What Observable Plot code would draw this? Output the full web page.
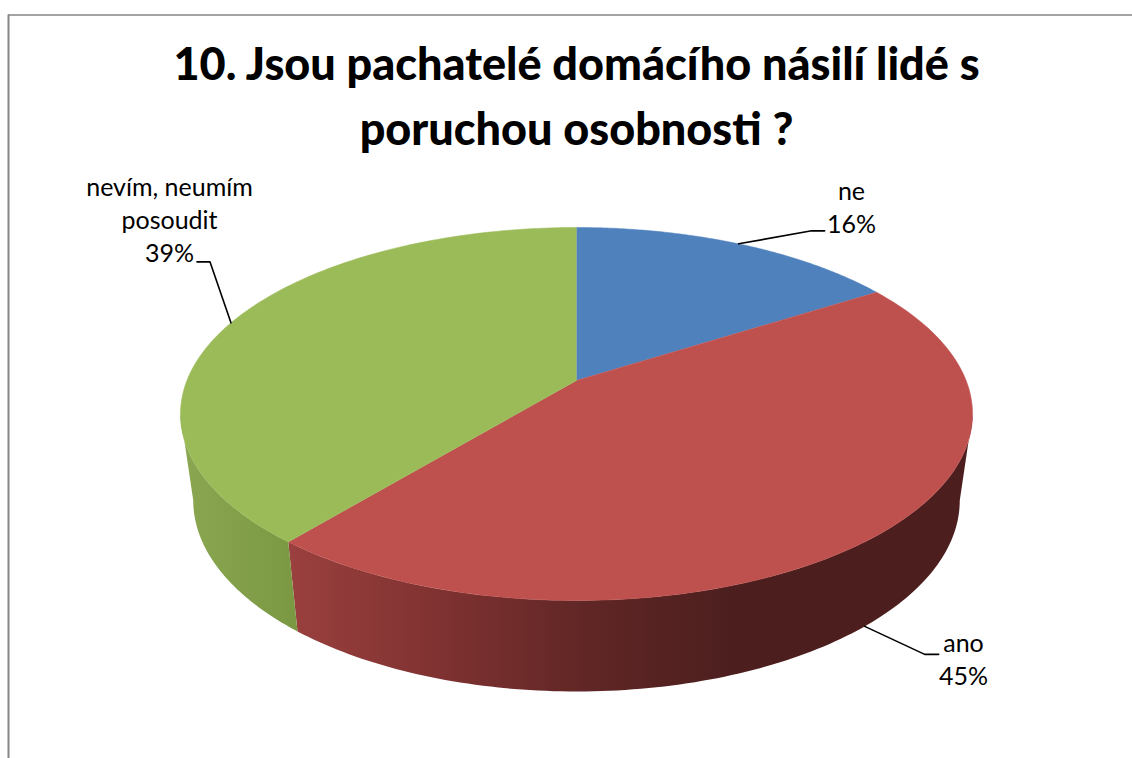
<!DOCTYPE html>
<html>
<head>
<meta charset="utf-8">
<script src="https://cdn.jsdelivr.net/npm/d3@7"></script>
<script src="https://cdn.jsdelivr.net/npm/@observablehq/plot@0.6"></script>
<style>html,body{margin:0;padding:0;background:#fff;overflow:hidden}svg{display:block}</style>
</head>
<body>
<div id="chart"></div>
<script>
const titleLines = ["10. Jsou pachatelé domácího násilí lidé s", "poruchou osobnosti ?"];
const categories = ["ne", "ano", "nevím, neumím\nposoudit"];
const shares = [16, 45, 39];
const topColors = ["#4f81bd", "#be504e", "#9bbb59"];
const leaderRim = ["top", "bottom", "top"];

// Perspective of the pie disc
const topRim = {cx: 576, cy: 380, a: 389.6, b: 180.5, k: 0.1796};
const bottomRim = {cx: 576, cy: 465.6, a: 377, b: 184.8, k: 0.18};
const project = (rim, deg) => {
  const t = deg * Math.PI / 180, X = Math.sin(t), Y = -Math.cos(t), d = 1 - rim.k * Y;
  return {x: rim.cx + rim.a * X / d, y: rim.cy + rim.b * Y / d};
};
const arc = (rim, from, to) => d3.range(0, 1.0001, 1 / 120).map(f => project(rim, from + (to - from) * f));

// Angles from the values
let running = 0;
const slices = categories.map((name, i) => {
  const from = running / 100 * 360;
  running += shares[i];
  return {name, value: shares[i], from, to: running / 100 * 360, color: topColors[i], rim: leaderRim[i]};
});

const topFaces = slices.flatMap(s => [{x: topRim.cx, y: topRim.cy}, ...arc(topRim, s.from, s.to)].map(p => ({...p, slice: s.name, color: s.color})));
const horizon = 100.4;
const sideFace = (from, to) => [...arc(topRim, from, to), ...arc(bottomRim, to, from)];
const redSide = sideFace(horizon, slices[1].to);
const greenSide = sideFace(slices[2].from, 360 - horizon);

// Leader lines start at the middle of each slice's outer edge
const leaderOffsets = [[[0, 0], [73, -13], [86, -13]], [[0, 0], [60, 28], [74, 28]], [[0, 0], [-21, -61], [-34, -61]]];
const leaders = slices.flatMap((s, i) => {
  const p = project(s.rim === "top" ? topRim : bottomRim, (s.from + s.to) / 2);
  return leaderOffsets[i].map(([dx, dy]) => ({x: p.x + dx, y: p.y + dy, slice: s.name}));
});

const labelAnchors = [[851, 205], [963, 657], [169, 218]];
const labels = slices.map((s, i) => ({x: labelAnchors[i][0], y: labelAnchors[i][1], text: `${s.name}\n${s.value}%`}));
const titleRows = titleLines.map((text, i) => ({text, x: 576, y: 65 + i * 65}));

const plot = Plot.plot({
  width: 1132, height: 758,
  margin: 0,
  x: {domain: [0, 1132], range: [0, 1132], axis: null},
  y: {domain: [0, 758], range: [0, 758], axis: null},
  style: {fontFamily: "Lato, sans-serif", background: "#fff"},
  marks: [
    Plot.ruleY([14.5], {x1: 8, x2: 1132, stroke: "#868686", strokeWidth: 1.5}),
    Plot.ruleX([8], {y1: 14.5, y2: 758, stroke: "#868686", strokeWidth: 2}),
    Plot.line(redSide, {x: "x", y: "y", fill: "url(#redSide)", stroke: "none"}),
    Plot.line(greenSide, {x: "x", y: "y", fill: "url(#greenSide)", stroke: "none"}),
    Plot.line(topFaces, {x: "x", y: "y", z: "slice", fill: "color", stroke: "color", strokeWidth: 0.5}),
    Plot.line(leaders, {x: "x", y: "y", z: "slice", stroke: "#000", strokeWidth: 1.6}),
    Plot.text(labels, {x: "x", y: "y", text: "text", fontSize: 25, lineHeight: 1.32, fill: "#000", textAnchor: "middle", lineAnchor: "middle"}),
    Plot.text(titleRows, {x: "x", y: "y", text: "text", fontSize: 45, fontWeight: 900, fill: "#000", textAnchor: "middle"})
  ],
  color: {type: "identity"}
});

const svgNS = "http://www.w3.org/2000/svg";
const defs = document.createElementNS(svgNS, "defs");
defs.innerHTML = `
<linearGradient id="redSide" gradientUnits="userSpaceOnUse" x1="290" x2="960" y1="0" y2="0">
  <stop offset="0" stop-color="#9a403e"/><stop offset="0.22" stop-color="#7f3231"/>
  <stop offset="0.45" stop-color="#5f2625"/><stop offset="0.66" stop-color="#4c1f1e"/><stop offset="1" stop-color="#4c1f1e"/>
</linearGradient>
<linearGradient id="greenSide" gradientUnits="userSpaceOnUse" x1="185" x2="300" y1="0" y2="0">
  <stop offset="0" stop-color="#8aa651"/><stop offset="1" stop-color="#7a9742"/>
</linearGradient>`;
plot.insertBefore(defs, plot.firstChild);
document.getElementById("chart").appendChild(plot);
</script>
</body>
</html>
